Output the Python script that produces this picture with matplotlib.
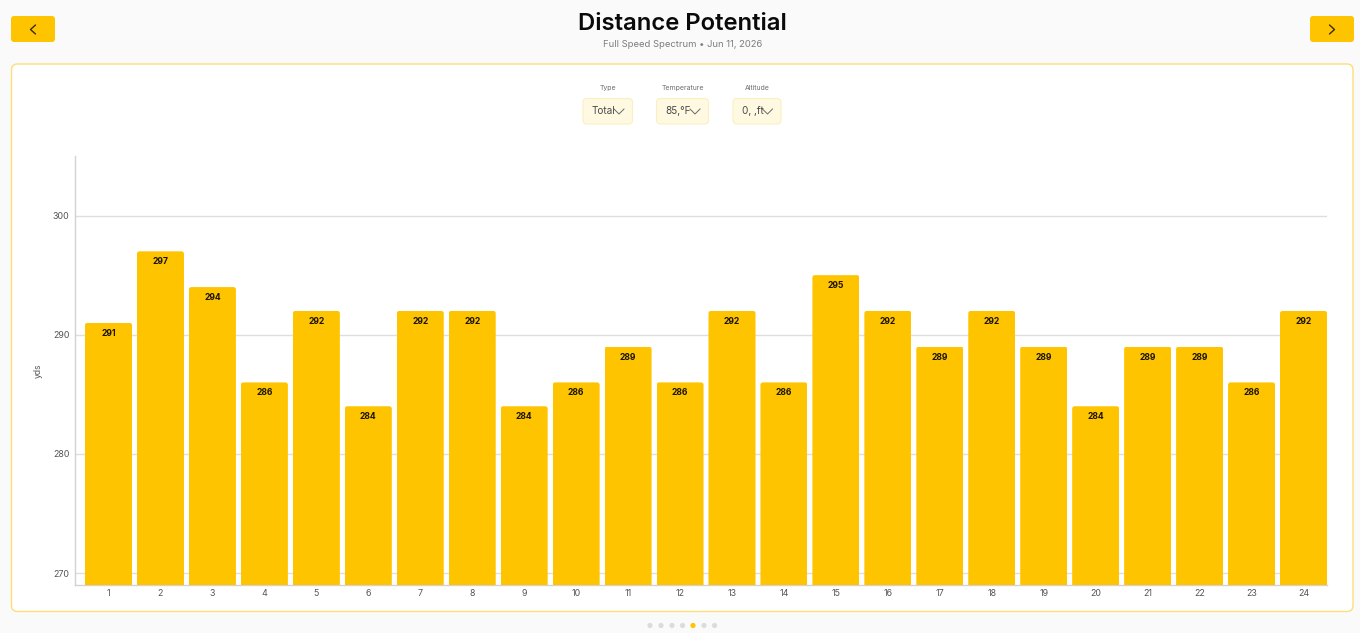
import matplotlib
matplotlib.use("Agg")
import matplotlib.pyplot as plt
from matplotlib.patches import FancyBboxPatch, Circle
from matplotlib.transforms import IdentityTransform

plt.rcParams['font.family'] = ['Inter', 'DejaVu Sans']

W, H = 1360, 633
clubs = list(range(1, 25))
distances = [291, 297, 294, 286, 292, 284, 292, 292, 284, 286, 289, 286,
             292, 286, 295, 292, 289, 292, 289, 284, 289, 289, 286, 292]
y_ticks = [270, 280, 290, 300]
title = "Distance Potential"
subtitle = "Full Speed Spectrum \u2022 Jun 11, 2026"
filters = [("Type", "Total"), ("Temperature", "85,\u00b0F"), ("Altitude", "0, ,ft")]

BAR = "#FFC400"
fig = plt.figure(figsize=(W / 100, H / 100), dpi=100, facecolor="#FAFAFA")

# page chrome, in pixel coordinates (y down)
bg = fig.add_axes([0, 0, 1, 1], zorder=0)
bg.set_xlim(0, W); bg.set_ylim(H, 0); bg.axis("off")

def box(x0, y0, x1, y1, r, fc, ec="none", lw=0):
    bg.add_patch(FancyBboxPatch((x0 + r, y0 + r), x1 - x0 - 2 * r, y1 - y0 - 2 * r,
                                boxstyle=f"round,pad={r},rounding_size={r}",
                                fc=fc, ec=ec, lw=lw))

box(11.5, 64, 1353, 611.5, 6, "white", "#FBDF7A", 1.0)

# nav buttons
for x0, x1, cx, d in [(11, 55, 33, -1), (1310, 1354, 1332, 1)]:
    box(x0, 16, x1, 42, 3, BAR)
    bg.plot([cx - d * 2.5, cx + d * 2.5, cx - d * 2.5], [25, 29.5, 34],
            color="#3a2c00", lw=1.0, solid_capstyle="round")

bg.text(682.5, 24, title, ha="center", va="center", fontsize=17.2,
        fontweight="semibold", color="#0a0a0a")
bg.text(682.5, 44.5, subtitle, ha="center", va="center", fontsize=6.8, color="#7d7d7d")

# filter dropdowns
geom = [(583, 632.5, 608), (656.5, 708.5, 682.5), (733, 781, 757)]
for (label, value), (x0, x1, cx) in zip(filters, geom):
    bg.text(cx, 88, label, ha="center", va="center", fontsize=5, color="#707070")
    box(x0, 98.5, x1, 124, 4, "#FFF9E2", "#FBEFC0", 0.8)
    bg.text(x0 + 9, 111, value, ha="left", va="center", fontsize=7.2, color="#4a4a4a")
    ax_ = x1 - 13.5
    bg.plot([ax_ - 5, ax_, ax_ + 5], [109, 114, 109], color="#6a6a6a", lw=0.7)

# pager dots
for i, cx in enumerate([650, 661, 672, 682.5, 693, 704, 714.5]):
    active = i == 4
    bg.add_patch(Circle((cx, 625.5), 2.6, fc=BAR if active else "#DCDCDC", ec="none"))

# chart
L, R, T, B = 75, 1327, 156, 585
ax = fig.add_axes([L / W, 1 - B / H, (R - L) / W, (B - T) / H], zorder=1)
ax.patch.set_alpha(0)
ax.set_xlim(0.355, 24.452)
ax.set_ylim(269.0, 305.0)
bars = ax.bar(clubs, distances, width=0.905, color=BAR, zorder=3, linewidth=0)
# rounded top corners: clip each bar with a rounded box in pixel space
for b in bars:
    e = b.get_window_extent()
    r = 2.5
    clip = FancyBboxPatch((e.x0 + r, e.y0 - 10), e.width - 2 * r, e.height + 10 - r,
                          boxstyle=f"round,pad={r},rounding_size={r}",
                          transform=IdentityTransform())
    b.set_clip_path(clip)
for c, v in zip(clubs, distances):
    ax.annotate(str(v), (c, v), xytext=(0, -10.5), textcoords="offset pixels",
                ha="center", va="center", fontsize=6.2, fontweight="bold",
                color="#1c1400", zorder=4)
ax.set_xticks(clubs)
ax.set_xticklabels([str(c) for c in clubs])
ax.set_yticks(y_ticks)
ax.tick_params(axis="both", length=0, labelsize=6.4, labelcolor="#555555")
ax.tick_params(axis="x", pad=3)
ax.tick_params(axis="y", pad=4)
ax.grid(axis="y", color="#DEDEDE", lw=1, zorder=1)
ax.set_axisbelow(True)
for s in ("top", "right"):
    ax.spines[s].set_visible(False)
for s in ("left", "bottom"):
    ax.spines[s].set_color("#D2D2D2")
    ax.spines[s].set_linewidth(1)
ax.set_ylabel("yds", fontsize=6.2, color="#555555", labelpad=0)
ax.yaxis.set_label_coords((43 - L) / (R - L), 0.5)

fig.savefig("out.png", dpi=100, facecolor=fig.get_facecolor())
